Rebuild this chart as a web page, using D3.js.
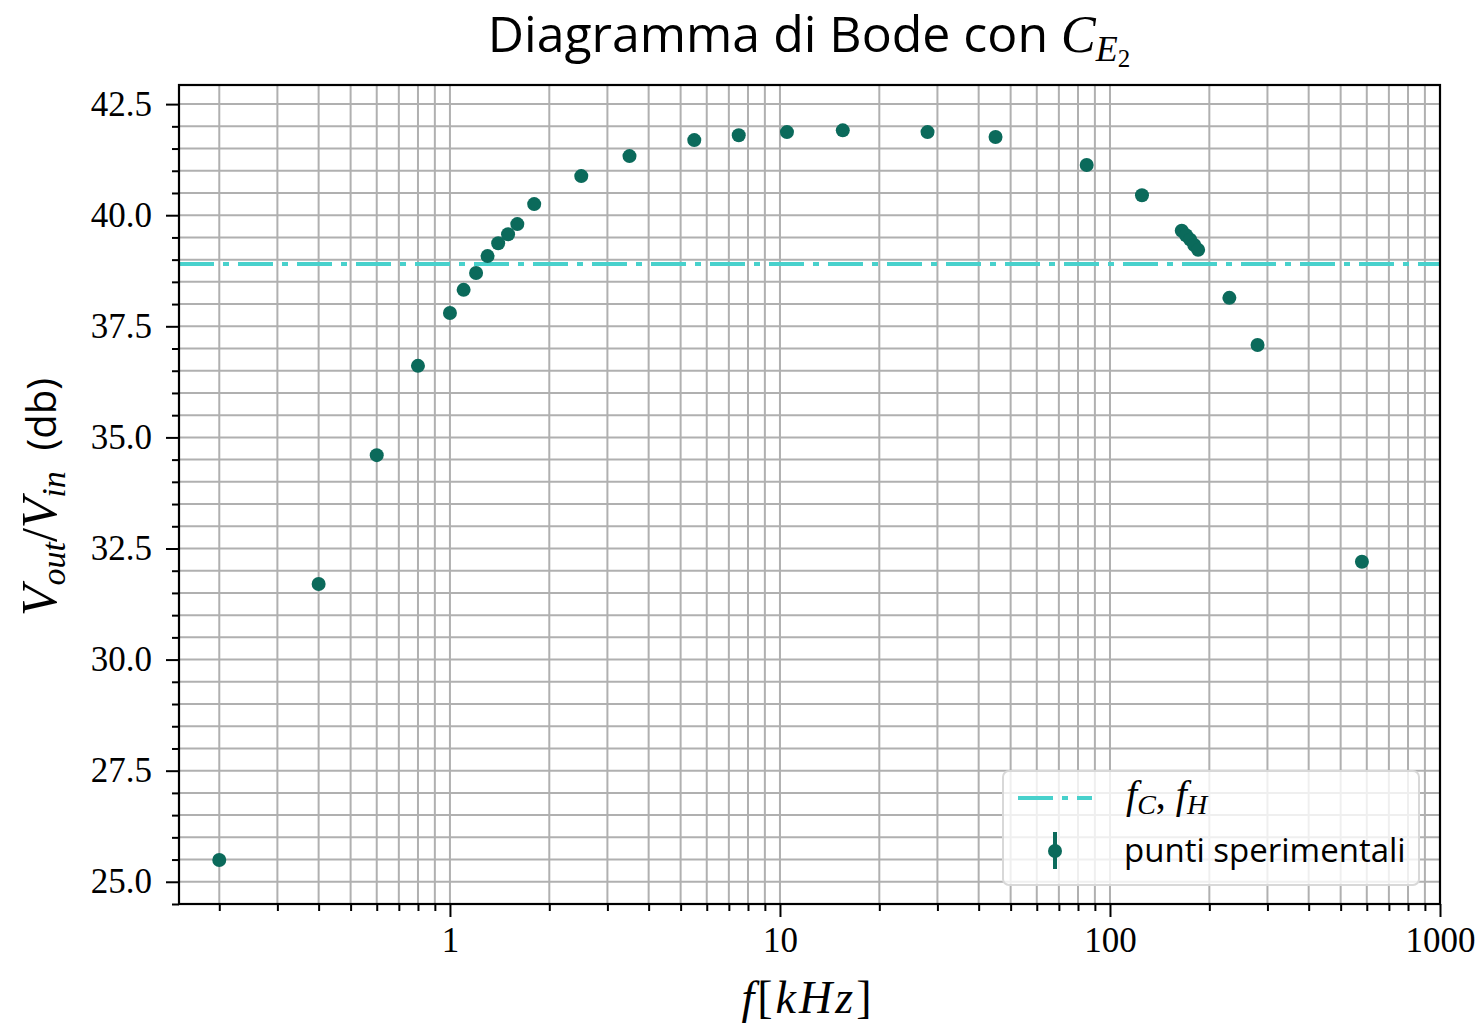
<!DOCTYPE html>
<html>
<head>
<meta charset="utf-8">
<script src="https://cdn.jsdelivr.net/npm/d3@7"></script>
<style>
body { margin: 0; background: #fff; }
text { fill: #000; }
</style>
</head>
<body>
<svg id="chart" width="1481" height="1030"></svg>
<script>
// frequenze in kHz, guadagno in dB
var freqs = [0.2, 0.4, 0.6, 0.8, 1.0, 1.1, 1.2, 1.3, 1.4, 1.5, 1.6, 1.8, 2.5, 3.5, 5.5, 7.5, 10.5, 15.5, 28, 45, 85, 125, 165, 170, 175, 180, 185, 230, 280, 580]
var gains = [25.49, 31.70, 34.60, 36.61, 37.80, 38.32, 38.70, 39.08, 39.37, 39.57, 39.80, 40.25, 40.88, 41.33, 41.69, 41.80, 41.87, 41.91, 41.87, 41.76, 41.13, 40.45, 39.65, 39.55, 39.45, 39.33, 39.22, 38.14, 37.08, 32.20]
var cutoffLevel = 38.9
var xTickLabels = [1, 10, 100, 1000]
var yTickLabels = [25.0, 27.5, 30.0, 32.5, 35.0, 37.5, 40.0, 42.5]

var svg = d3.select("#chart"),
    pLeft = 179, pRight = 1440, pTop = 85, pBottom = 904

var x = d3.scaleLog().domain([0.151, 1000]).range([pLeft, pRight])
var y = d3.scaleLinear().domain([24.5, 42.93]).range([pBottom, pTop])

var gridColor = "#b0b0b0"
var ptColor = "#0b6a5b"
var lineColor = "#48d1cc"

// minor + major positions
var xMinor = []
;[0.1, 1, 10, 100].forEach(function (dec) {
    for (var k = 1; k <= 9; k++) {
        var v = +(dec * k).toPrecision(6)
        if (v >= 0.151 && v <= 1000) xMinor.push(v)
    }
})
xMinor.push(1000)
var yMinor = d3.range(0, 37).map(function (i) { return 24.5 + i * 0.5 }).filter(function (v) { return v <= 42.93 })

var g = svg.append("g")

// grid
g.selectAll(".gx").data(xMinor).enter().append("line")
    .attr("x1", function (d) { return x(d) }).attr("x2", function (d) { return x(d) })
    .attr("y1", pTop).attr("y2", pBottom)
    .attr("stroke", gridColor).attr("stroke-width", 2)
g.selectAll(".gy").data(yMinor).enter().append("line")
    .attr("y1", function (d) { return y(d) }).attr("y2", function (d) { return y(d) })
    .attr("x1", pLeft).attr("x2", pRight)
    .attr("stroke", gridColor).attr("stroke-width", 2)

// cutoff line
g.append("line")
    .attr("x1", pLeft).attr("x2", pRight)
    .attr("y1", y(cutoffLevel)).attr("y2", y(cutoffLevel))
    .attr("stroke", lineColor).attr("stroke-width", 4)
    .attr("stroke-dasharray", "35,9,6,9")

// points
g.selectAll(".pt").data(freqs).enter().append("circle")
    .attr("cx", function (d) { return x(d) })
    .attr("cy", function (d, i) { return y(gains[i]) })
    .attr("r", 7)
    .attr("fill", ptColor)

// axes
var tickFont = "'Liberation Serif', serif"
var xAxis = d3.axisBottom(x).tickValues(xTickLabels).tickFormat(d3.format("d")).tickSize(13).tickPadding(10)
var xAxisMinor = d3.axisBottom(x).tickValues(xMinor.filter(function (v) { return xTickLabels.indexOf(v) < 0 })).tickFormat("").tickSize(7)
var yAxis = d3.axisLeft(y).tickValues(yTickLabels).tickFormat(d3.format(".1f")).tickSize(13).tickPadding(14)
var yAxisMinor = d3.axisLeft(y).tickValues(yMinor.filter(function (v) { return v % 2.5 !== 0 })).tickFormat("").tickSize(7)

function styleAxis(sel) {
    sel.select(".domain").remove()
    sel.selectAll("line").attr("stroke", "#000").attr("stroke-width", 2)
    sel.selectAll("text").style("font-family", tickFont).style("font-size", "35px").attr("fill", "#111")
}
svg.append("g").attr("transform", "translate(0," + pBottom + ")").call(xAxis).call(styleAxis)
svg.append("g").attr("transform", "translate(0," + pBottom + ")").call(xAxisMinor).call(styleAxis)
svg.append("g").attr("transform", "translate(" + pLeft + ",0)").call(yAxis).call(styleAxis)
svg.append("g").attr("transform", "translate(" + pLeft + ",0)").call(yAxisMinor).call(styleAxis)

// frame
svg.append("rect").attr("x", pLeft).attr("y", pTop).attr("width", pRight - pLeft).attr("height", pBottom - pTop)
    .attr("fill", "none").attr("stroke", "#000").attr("stroke-width", 2.2)

// legend
var lg = svg.append("g")
lg.append("rect").attr("x", 1003).attr("y", 771).attr("width", 416).attr("height", 114).attr("rx", 6)
    .attr("fill", "#fff").attr("fill-opacity", 0.8).attr("stroke", "#d8d8d8").attr("stroke-width", 2)
lg.append("line").attr("x1", 1018).attr("x2", 1092).attr("y1", 798).attr("y2", 798)
    .attr("stroke", lineColor).attr("stroke-width", 4).attr("stroke-dasharray", "35,9,6,9")
lg.append("line").attr("x1", 1055).attr("x2", 1055).attr("y1", 832).attr("y2", 869)
    .attr("stroke", ptColor).attr("stroke-width", 4)
lg.append("circle").attr("cx", 1055).attr("cy", 851).attr("r", 7).attr("fill", ptColor)

var mathFont = "'Liberation Serif', serif"
var sansFont = "'Open Sans', 'DejaVu Sans', sans-serif"

var l1 = lg.append("text").attr("x", 1126).attr("y", 808).style("font-family", mathFont).style("font-style", "italic").style("font-size", "40px")
l1.append("tspan").text("f")
l1.append("tspan").attr("dy", 6).style("font-size", "28px").text("C")
l1.append("tspan").attr("dy", -6).style("font-style", "normal").text(",\u00a0")
l1.append("tspan").text("f")
l1.append("tspan").attr("dy", 6).style("font-size", "28px").text("H")

lg.append("text").attr("x", 1124).attr("y", 862).style("font-family", sansFont).style("font-size", "33px").text("punti sperimentali")

// title
var t = svg.append("text").attr("x", 809).attr("y", 52).attr("text-anchor", "middle").style("font-size", "50px")
t.append("tspan").style("font-family", sansFont).text("Diagramma di Bode con\u00a0")
t.append("tspan").style("font-family", mathFont).style("font-style", "italic").style("font-size", "52px").text("C")
t.append("tspan").attr("dy", 9).style("font-family", mathFont).style("font-style", "italic").style("font-size", "36px").text("E")
t.append("tspan").attr("dy", 6).style("font-family", mathFont).style("font-size", "25px").text("2")

// x label
var xl = svg.append("text").attr("x", 808).attr("y", 1013).attr("text-anchor", "middle")
    .style("font-family", mathFont).style("font-style", "italic").style("font-size", "46px")
    .style("letter-spacing", "3px")
xl.append("tspan").text("f")
xl.append("tspan").style("font-style", "normal").text("[")
xl.append("tspan").text("kHz")
xl.append("tspan").style("font-style", "normal").text("]")

// y label
var yl = svg.append("text").attr("transform", "translate(56,497) rotate(-90)").attr("text-anchor", "middle")
    .style("font-family", mathFont).style("font-style", "italic").style("font-size", "50px")
yl.append("tspan").text("V")
yl.append("tspan").attr("dy", 9).style("font-size", "34px").text("out")
yl.append("tspan").attr("dy", -9).style("font-style", "normal").text("/")
yl.append("tspan").text("V")
yl.append("tspan").attr("dy", 9).style("font-size", "34px").text("in")
yl.append("tspan").attr("dy", -9).style("font-style", "normal").style("font-family", sansFont).style("font-size", "40px").text("\u00a0\u00a0(db)")
</script>
</body>
</html>
